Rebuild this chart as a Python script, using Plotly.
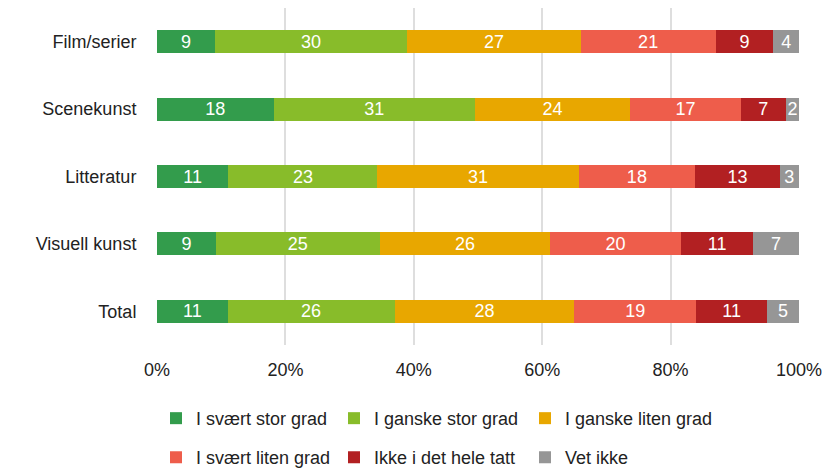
import plotly.graph_objects as go

categories = ["Film/serier", "Scenekunst", "Litteratur", "Visuell kunst", "Total"]
series_names = ["I svært stor grad", "I ganske stor grad", "I ganske liten grad",
                "I svært liten grad", "Ikke i det hele tatt", "Vet ikke"]
svaert_stor = [9, 18, 11, 9, 11]
ganske_stor = [30, 31, 23, 25, 26]
ganske_liten = [27, 24, 31, 26, 28]
svaert_liten = [21, 17, 18, 20, 19]
ikke = [9, 7, 13, 11, 11]
vet_ikke = [4, 2, 3, 7, 5]
series_values = [svaert_stor, ganske_stor, ganske_liten, svaert_liten, ikke, vet_ikke]
colors = ["#339c4c", "#88bc2a", "#e8a700", "#ee5d4b", "#b22022", "#969696"]
x_ticks = [0, 20, 40, 60, 80, 100]
x_tick_labels = ["0%", "20%", "40%", "60%", "80%", "100%"]

FONT = "Liberation Sans, Arial, Helvetica, sans-serif"

# legend grid: 3 columns x 2 rows
legend_cols_x = [-0.0016, 0.2757, 0.5732]
legend_rows_y = [-0.218, -0.334]

fig = go.Figure()
legend_layout = {}
for i, (name, vals, col) in enumerate(zip(series_names, series_values, colors)):
    lname = "legend" if i == 0 else f"legend{i + 1}"
    fig.add_trace(go.Bar(
        y=categories, x=vals, name=name, orientation="h",
        marker=dict(color=col, line=dict(width=0)),
        text=[str(v) for v in vals], textposition="inside",
        insidetextanchor="middle", textangle=0,
        textfont=dict(color="white", size=18, family=FONT),
        legend=lname,
        hoverinfo="skip",
    ))
    legend_layout[lname] = dict(
        orientation="h", x=legend_cols_x[i % 3], xanchor="left",
        y=legend_rows_y[i // 3], yanchor="middle",
        font=dict(size=18, color="#222222"), itemclick=False,
        bgcolor="rgba(0,0,0,0)",
    )

fig.update_layout(
    width=827, height=460,
    barmode="stack", barnorm="percent", bargap=0.658,
    margin=dict(l=149, r=36, t=0, b=123, autoexpand=False),
    plot_bgcolor="white", paper_bgcolor="white",
    font=dict(family=FONT, size=18, color="#222222"),
    uniformtext=dict(minsize=18, mode="show"),
    xaxis=dict(range=[0, 100], tickvals=x_ticks, ticktext=x_tick_labels,
               showgrid=True, gridcolor="#dedede", gridwidth=1.5,
               zeroline=False, showline=False,
               ticks="outside", ticklen=8, tickcolor="rgba(0,0,0,0)",
               tickfont=dict(size=18, color="#222222")),
    yaxis=dict(categoryorder="array", categoryarray=categories,
               autorange="reversed", showgrid=False, showline=False,
               ticks="outside", ticklen=16, tickcolor="rgba(0,0,0,0)",
               tickfont=dict(size=18, color="#222222")),
    showlegend=True,
    **legend_layout,
)

fig.write_html("out.html")
